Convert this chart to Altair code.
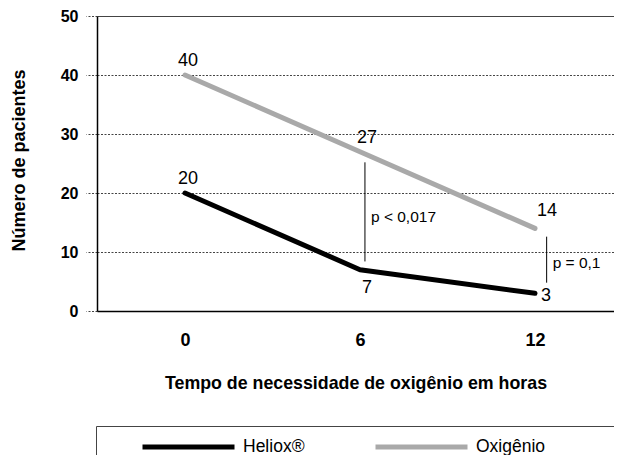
import altair as alt
import pandas as pd

# ---- data ----
hours = [0, 6, 12]
heliox = [20, 7, 3]
oxigenio = [40, 27, 14]
series_names = ["Heliox®", "Oxigênio"]
series_colors = ["#000000", "#a9a9a9"]

y_ticks = [0, 10, 20, 30, 40, 50]
x_ticks = [0, 6, 12]

p_labels = ["p < 0,017", "p = 0,1"]
p_x = [6.17, 12.4]
p_low = [8.4, 4.8]
p_high = [25.2, 12.6]
p_text_y = [16.0, 8.2]

rows = []
for name, vals in zip(series_names, [heliox, oxigenio]):
    for h, v in zip(hours, vals):
        rows.append({"serie": name, "hora": h, "n": v})
df = pd.DataFrame(rows)
ann = pd.DataFrame({"label": p_labels, "x": p_x, "y1": p_low, "y2": p_high, "ty": p_text_y})

FONT = "Liberation Sans"

xscale = alt.Scale(domain=[-3.017, 14.709], nice=False, zero=False)
yscale = alt.Scale(domain=[0, 50], nice=False)

x_enc = alt.X(
    "hora:Q", scale=xscale,
    axis=alt.Axis(
        values=x_ticks, title="Tempo de necessidade de oxigênio em horas",
        grid=False, ticks=False, tickSize=0, labelPadding=20,
        labelFont=FONT, labelFontSize=18, labelFontWeight="bold", labelColor="black",
        titleFont=FONT, titleFontSize=17.8, titleFontWeight="bold", titleColor="black",
        titlePadding=25, domainColor="black", domainWidth=1.5,
    ),
)
y_enc = alt.Y(
    "n:Q", scale=yscale,
    axis=alt.Axis(
        values=y_ticks, title="Número de pacientes",
        grid=True, gridColor="#444444", gridWidth=1,
        gridDash={"condition": {"test": "datum.value === 50", "value": []}, "value": [2, 1.5]},
        tickSize=11, tickColor="#444444", tickDash=[2, 1.5], tickWidth=1,
        labelPadding=8, labelFont=FONT, labelFontSize=16, labelFontWeight="bold",
        labelColor="black",
        titleFont=FONT, titleFontSize=18, titleFontWeight="bold", titleColor="black",
        titleX=-69, titleY=144, titleAngle=270, titleBaseline="bottom", titleAlign="center",
        domainColor="black", domainWidth=1.5,
    ),
)

color = alt.Color(
    "serie:N",
    scale=alt.Scale(domain=series_names, range=series_colors),
    sort=series_names,
    legend=alt.Legend(
        orient="none", legendX=-1, legendY=410, direction="horizontal", columns=2,
        symbolType="stroke", symbolSize=8464, symbolStrokeWidth=5,
        symbolOffset=32, labelOffset=6, columnPadding=36, padding=12, clipHeight=18,
        strokeColor="#444444", fillColor="white",
        labelFont=FONT, labelFontSize=17.5, labelColor="black",
        title=" ", titleOrient="right", titlePadding=120,
    ),
)

base = alt.Chart(df)

lines = base.mark_line(strokeWidth=5, strokeCap="round", strokeJoin="round").encode(
    x=x_enc, y=y_enc, color=color
)

label_groups = [
    ("datum.hora == 0", 3, -14),
    ("datum.serie == 'Oxigênio' && datum.hora == 6", 7, -14),
    ("datum.serie == 'Oxigênio' && datum.hora == 12", 12, -17),
    ("datum.serie == 'Heliox®' && datum.hora == 6", 7, 18),
    ("datum.serie == 'Heliox®' && datum.hora == 12", 11, 3),
]
label_layers = [
    base.transform_filter(f).mark_text(
        font=FONT, fontSize=18, color="black", dx=dx, dy=dy, baseline="middle"
    ).encode(x=alt.X("hora:Q", scale=xscale), y=alt.Y("n:Q", scale=yscale), text="n:Q")
    for f, dx, dy in label_groups
]

ann_base = alt.Chart(ann)
p_rules = ann_base.mark_rule(color="black", strokeWidth=1).encode(
    x=alt.X("x:Q", scale=xscale), y=alt.Y("y1:Q", scale=yscale), y2="y2:Q"
)
p_text = ann_base.mark_text(
    font=FONT, fontSize=15.5, color="black", align="left", dx=6, baseline="middle"
).encode(x=alt.X("x:Q", scale=xscale), y=alt.Y("ty:Q", scale=yscale), text="label:N")

chart = alt.layer(lines, *label_layers, p_rules, p_text).properties(
    width=517, height=295,
    autosize=alt.AutoSizeParams(type="none"),
    padding={"left": 89, "top": 8, "right": 0, "bottom": 144},
).configure_view(strokeWidth=0)

chart.save("out.html", embed_options={"renderer": "svg", "actions": False})
